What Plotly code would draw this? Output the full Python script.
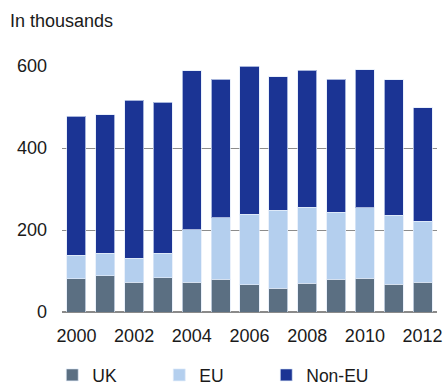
import plotly.graph_objects as go

# Annual figures, in thousands
years = list(range(2000, 2013))
uk = [81, 88, 72, 83, 72, 80, 66, 58, 70, 80, 82, 68, 72]
eu = [57, 55, 59, 60, 129, 150, 173, 190, 186, 163, 172, 168, 149]
non_eu = [340, 338, 386, 368, 388, 338, 360, 326, 334, 325, 337, 330, 277]

series_names = ["UK", "EU", "Non-EU"]
series_values = [uk, eu, non_eu]
series_colors = ["#5b6f82", "#b4cfee", "#1b3494"]

y_ticks = [0, 200, 400, 600]
x_ticks = list(range(2000, 2013, 2))

font_family = "Liberation Sans, Arial, sans-serif"

fig = go.Figure()
for name, vals, col in zip(series_names, series_values, series_colors):
    fig.add_trace(go.Bar(
        x=years, y=vals, name=name,
        marker=dict(color=col, line=dict(color="rgba(225,235,250,0.7)", width=1)),
    ))

fig.update_layout(
    barmode="stack",
    bargap=0.34,
    width=443, height=385,
    margin=dict(l=62, r=6, t=66, b=73, autoexpand=False),
    plot_bgcolor="white", paper_bgcolor="white",
    font=dict(family=font_family, size=18, color="#1a1a1a"),
    showlegend=True,
    legend=dict(
        orientation="h", x=-0.026, xanchor="left", y=-63/246, yanchor="middle",
        entrywidth=62, entrywidthmode="pixels",
        font=dict(size=17.5), traceorder="normal",
    ),
    annotations=[dict(
        text="In thousands", xref="paper", yref="paper",
        x=-54/375, y=1 + 45/246, xanchor="left", yanchor="middle",
        showarrow=False, font=dict(size=18),
    )],
)
fig.update_xaxes(
    range=[1999.5, 2012.5], tickvals=x_ticks, showgrid=False,
    showline=False, zeroline=False, ticks="", ticklabelstandoff=11,
)
fig.update_yaxes(
    range=[0, 600], tickvals=y_ticks, showgrid=True, gridcolor="#8c8c8c",
    gridwidth=1, zeroline=True, zerolinecolor="#8a8a8a", zerolinewidth=2,
    showline=False, ticks="", ticklabelstandoff=14,
)

fig.write_html("out.html")
